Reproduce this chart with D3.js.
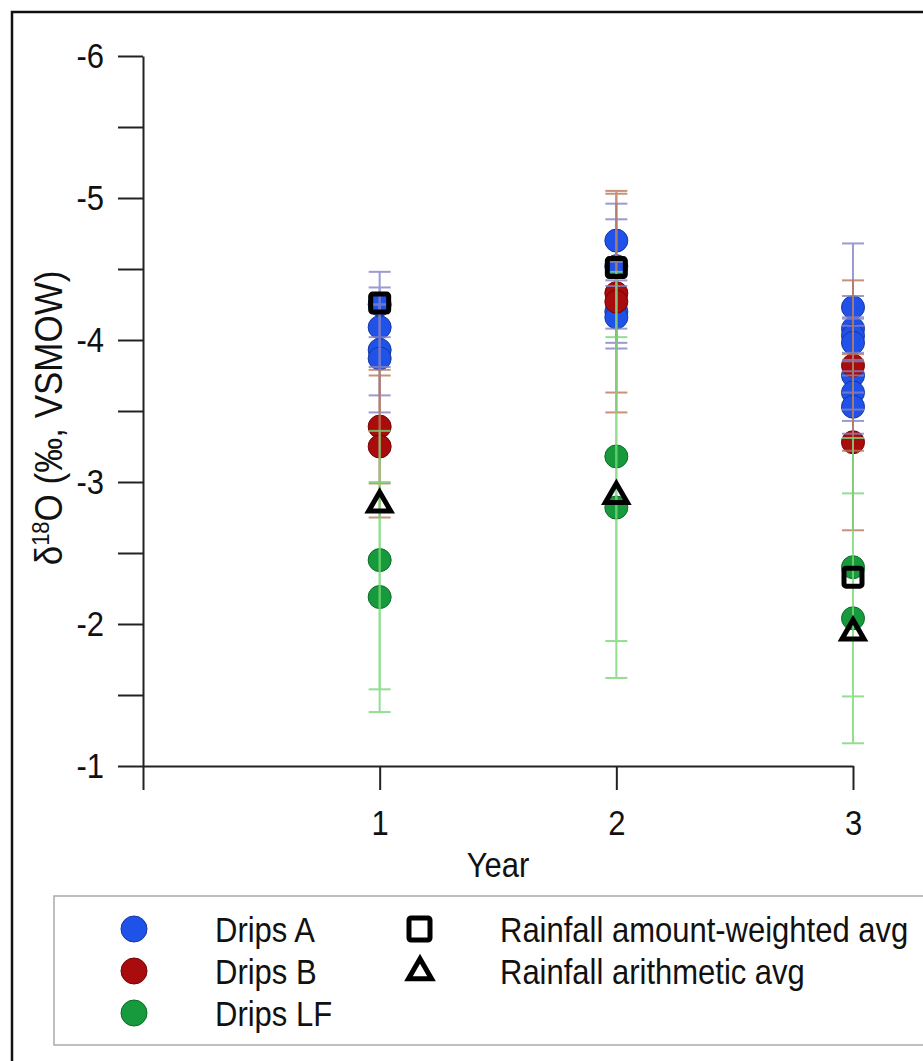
<!DOCTYPE html>
<html>
<head>
<meta charset="utf-8">
<script src="https://cdn.jsdelivr.net/npm/d3@7"></script>
<style>
  body { margin: 0; background: #fff; }
  text { font-family: "Liberation Sans", Arial, sans-serif; fill: #111; }
</style>
</head>
<body>
<script>
var w = 923;
var h = 1061;

// data
var years = [1, 2, 3];
var yTicks = [-6, -5, -4, -3, -2, -1];
var yMinor = [-5.5, -4.5, -3.5, -2.5, -1.5];

var dripsAYear  = [1, 1, 1, 1, 2, 2, 2, 2, 3, 3, 3, 3, 3, 3, 3];
var dripsAValue = [-4.25, -4.09, -3.93, -3.87, -4.70, -4.52, -4.20, -4.16, -4.23, -4.08, -4.03, -3.98, -3.75, -3.63, -3.53];
var dripsAErr   = [0.23, 0.28, 0.32, 0.38, 0.15, 0.44, 0.22, 0.22, 0.45, 0.23, 0.12, 0.12, 0.41, 0.12, 0.10];

var dripsBYear  = [1, 1, 2, 2, 3, 3];
var dripsBValue = [-3.39, -3.25, -4.33, -4.27, -3.82, -3.28];
var dripsBErr   = [0.40, 0.50, 0.70, 0.78, 0.60, 0.62];

var dripsLFYear  = [1, 1, 2, 2, 3, 3];
var dripsLFValue = [-2.45, -2.19, -3.18, -2.82, -2.40, -2.04];
var dripsLFErr   = [0.91, 0.81, 1.30, 1.20, 0.91, 0.88];

var rainWeighted = [-4.26, -4.51, -2.33];
var rainArith    = [-2.84, -2.90, -1.94];

var series = [
  {name: 'Drips A',  year: dripsAYear,  value: dripsAValue,  err: dripsAErr,  fill: '#1f52e8', stroke: '#1636a0', bar: '#8482c8'},
  {name: 'Drips B',  year: dripsBYear,  value: dripsBValue,  err: dripsBErr,  fill: '#a80c0c', stroke: '#760404', bar: '#b8785a'},
  {name: 'Drips LF', year: dripsLFYear, value: dripsLFValue, err: dripsLFErr, fill: '#169a3c', stroke: '#0c6a28', bar: '#78d878'}
];

var x = d3.scaleLinear().domain([0, 3]).range([143, 853]);
var y = d3.scaleLinear().domain([-6, -1]).range([56, 766]);
var stretch = 'scale(1,1.13)';

var svg = d3.select('body').append('svg')
  .attr('width', w)
  .attr('height', h);

// outer frame
svg.append('rect')
  .attr('x', 12).attr('y', 12)
  .attr('width', 940).attr('height', 1080)
  .attr('fill', 'none').attr('stroke', '#111').attr('stroke-width', 2.5);

// y axis
svg.append('g')
  .attr('class', 'yaxis')
  .attr('transform', `translate(${x(0)},0)`)
  .call(d3.axisLeft(y)
    .tickValues(yTicks.concat(yMinor))
    .tickSize(25)
    .tickSizeOuter(0)
    .tickPadding(14)
    .tickFormat(d => Number.isInteger(d) ? String(d) : ''));

// x axis
svg.append('g')
  .attr('class', 'xaxis')
  .attr('transform', `translate(0,${y(-1)})`)
  .call(d3.axisBottom(x)
    .tickValues([0].concat(years))
    .tickSize(24)
    .tickSizeOuter(0)
    .tickPadding(15)
    .tickFormat(d => d === 0 ? '' : String(d)));

svg.selectAll('.domain').attr('stroke', '#222').attr('stroke-width', 2);
svg.selectAll('.tick line').attr('stroke', '#222').attr('stroke-width', 2);
svg.selectAll('.tick text')
  .style('font-size', '31px')
  .attr('fill', '#111')
  .attr('transform', stretch);

// axis titles
svg.append('text')
  .attr('transform', `translate(${x(1.5)},877) ${stretch}`)
  .attr('text-anchor', 'middle')
  .style('font-size', '31px')
  .text('Year');

var yl = svg.append('text')
  .attr('transform', 'translate(62,418) rotate(-90) scale(1,1.1)')
  .attr('text-anchor', 'middle')
  .style('font-size', '35px');
yl.append('tspan').text('δ');
yl.append('tspan').attr('dy', -12).style('font-size', '22px').text('18');
yl.append('tspan').attr('dy', 12).text('O (‰, VSMOW)');

// points
var cap = 11;
series.forEach(function(s) {
  svg.append('g').selectAll('circle')
    .data(s.value)
    .join('circle')
    .attr('cx', (d, i) => x(s.year[i]))
    .attr('cy', d => y(d))
    .attr('r', 11.5)
    .attr('fill', s.fill)
    .attr('stroke', s.stroke)
    .attr('stroke-width', 1);
});

series.forEach(function(s) {
  var g = svg.append('g')
    .attr('stroke', s.bar)
    .attr('stroke-width', 2)
    .attr('opacity', 0.8);
  s.value.forEach(function(v, i) {
    var cx = x(s.year[i]);
    g.append('line')
      .attr('x1', cx).attr('x2', cx)
      .attr('y1', y(v - s.err[i])).attr('y2', y(v + s.err[i]));
    [v - s.err[i], v + s.err[i]].forEach(function(e) {
      g.append('line')
        .attr('x1', cx - cap).attr('x2', cx + cap)
        .attr('y1', y(e)).attr('y2', y(e));
    });
  });
});

// rainfall markers
svg.append('g').selectAll('rect')
  .data(rainWeighted)
  .join('rect')
  .attr('x', (d, i) => x(years[i]) - 9)
  .attr('y', d => y(d) - 9)
  .attr('width', 18).attr('height', 18)
  .attr('rx', 2)
  .attr('fill', 'none')
  .attr('stroke', '#000')
  .attr('stroke-width', 5);

var tri = d3.symbol().type(d3.symbolTriangle).size(210);
svg.append('g').selectAll('path')
  .data(rainArith)
  .join('path')
  .attr('transform', (d, i) => `translate(${x(years[i])},${y(d)})`)
  .attr('d', tri)
  .attr('fill', 'none')
  .attr('stroke', '#000')
  .attr('stroke-width', 5);

// legend
svg.append('rect')
  .attr('x', 54).attr('y', 896)
  .attr('width', 900).attr('height', 149)
  .attr('fill', 'none')
  .attr('stroke', '#aaa')
  .attr('stroke-width', 1.5);

var rowY = [929, 971, 1013];
series.forEach(function(s, i) {
  svg.append('circle')
    .attr('cx', 134).attr('cy', rowY[i]).attr('r', 13)
    .attr('fill', s.fill).attr('stroke', s.stroke);
  svg.append('text')
    .attr('transform', `translate(215,${rowY[i]}) ${stretch}`)
    .attr('dy', '0.36em')
    .style('font-size', '31px')
    .text(s.name);
});

svg.append('rect')
  .attr('x', 409).attr('y', rowY[0] - 11)
  .attr('width', 21).attr('height', 22)
  .attr('rx', 2)
  .attr('fill', 'none').attr('stroke', '#000').attr('stroke-width', 5);
svg.append('path')
  .attr('transform', `translate(420,${rowY[1] + 1})`)
  .attr('d', d3.symbol().type(d3.symbolTriangle).size(230))
  .attr('fill', 'none').attr('stroke', '#000').attr('stroke-width', 5);

[['Rainfall amount-weighted avg', rowY[0]], ['Rainfall arithmetic avg', rowY[1]]].forEach(function(t) {
  svg.append('text')
    .attr('transform', `translate(500,${t[1]}) ${stretch}`)
    .attr('dy', '0.36em')
    .style('font-size', '31px')
    .text(t[0]);
});
</script>
</body>
</html>
